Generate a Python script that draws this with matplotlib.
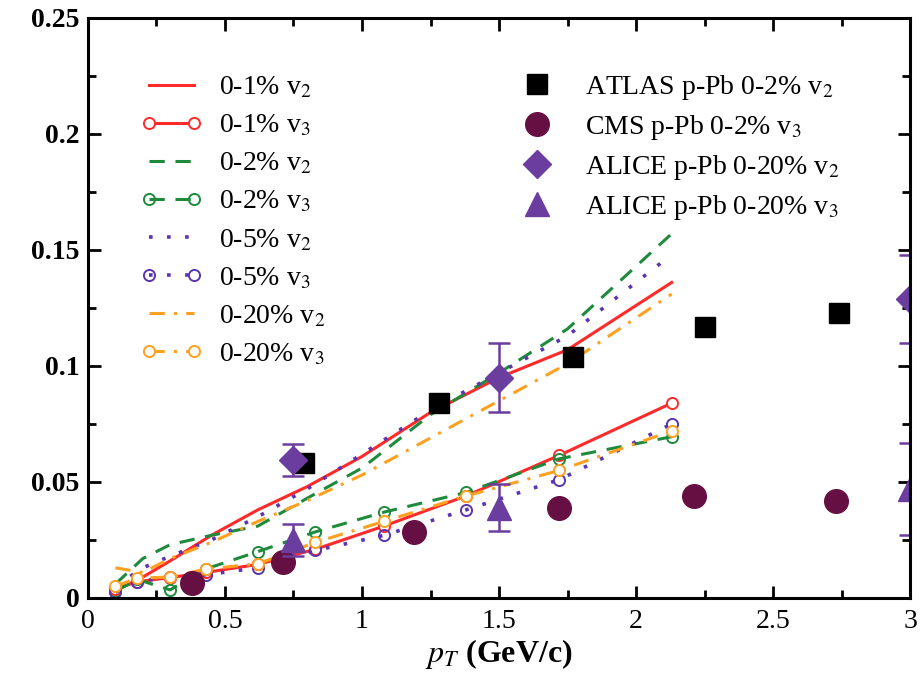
import matplotlib
matplotlib.use("Agg")
import matplotlib.pyplot as plt
from matplotlib.ticker import MultipleLocator, FuncFormatter

plt.rcParams['font.family'] = ['Liberation Serif', 'DejaVu Serif']
plt.rcParams['mathtext.fontset'] = 'stix'

# ---- theory curves: v2 (lines only) ----
x_v2 = [0.1, 0.2, 0.3, 0.45, 0.62, 0.8, 1.0, 1.25, 1.5, 1.75, 2.13]
v2_01 = [0.003, 0.009, 0.016, 0.027, 0.038, 0.048, 0.061, 0.080, 0.095, 0.107, 0.136]
v2_02 = [0.006, 0.017, 0.023, 0.027, 0.031, 0.043, 0.056, 0.079, 0.097, 0.116, 0.157]
v2_05 = [0.005, 0.013, 0.018, 0.025, 0.035, 0.047, 0.062, 0.081, 0.097, 0.113, 0.148]
v2_020 = [0.013, 0.011, 0.017, 0.024, 0.033, 0.042, 0.053, 0.069, 0.085, 0.101, 0.131]

# ---- theory curves: v3 (lines with open circles) ----
x_v3 = [0.1, 0.18, 0.3, 0.43, 0.62, 0.83, 1.08, 1.38, 1.72, 2.13]
v3_01 = [0.004, 0.007, 0.0088, 0.011, 0.0145, 0.021, 0.031, 0.044, 0.0615, 0.084]
v3_02 = [0.003, 0.008, 0.0035, 0.0125, 0.020, 0.0285, 0.037, 0.0455, 0.060, 0.0695]
v3_05 = [0.0025, 0.007, 0.009, 0.010, 0.013, 0.0205, 0.027, 0.038, 0.051, 0.075]
v3_020 = [0.005, 0.0086, 0.009, 0.0125, 0.0147, 0.024, 0.033, 0.044, 0.055, 0.072]

# ---- experimental data ----
atlas_x = [0.79, 1.28, 1.77, 2.25, 2.74]
atlas_v2 = [0.058, 0.084, 0.104, 0.117, 0.123]
cms_x = [0.38, 0.71, 1.19, 1.72, 2.21, 2.73]
cms_v3 = [0.0065, 0.0155, 0.0285, 0.039, 0.044, 0.042]
alice_x = [0.75, 1.5, 3.0]
alice_v2 = [0.0595, 0.095, 0.129]
alice_v2_err = [0.007, 0.015, 0.019]
alice_v3 = [0.025, 0.039, 0.047]
alice_v3_err = [0.007, 0.010, 0.020]

RED = '#ff2a2a'
GREEN = '#1e8a3c'
PURPLE = '#5b35b0'
ORANGE = '#ffa020'
MAROON = '#650f42'
ALICE = '#6a3d9f'

fig = plt.figure(figsize=(9.23, 6.76), dpi=100)
ax = fig.add_axes([0.0953, 0.1154, 0.8907, 0.858])

lw = 2.2
ms_open = 8
ls_dash = (0, (5, 3.5))
ls_dot = (0, (1, 4))
ls_dd = (0, (5, 3, 1, 3))

h = []
h += ax.plot(x_v2, v2_01, color=RED, lw=lw, label='0-1% v$_2$')
h += ax.plot(x_v3, v3_01, color=RED, lw=lw, marker='o', ms=ms_open, mfc='white',
             mec=RED, mew=1.4, label='0-1% v$_3$')
h += ax.plot(x_v2, v2_02, color=GREEN, lw=lw, ls=ls_dash, label='0-2% v$_2$')
h += ax.plot(x_v3, v3_02, color=GREEN, lw=lw, ls=ls_dash, marker='o', ms=ms_open,
             mfc='none', mec=GREEN, mew=1.4, label='0-2% v$_3$')
h += ax.plot(x_v2, v2_05, color=PURPLE, lw=2.6, ls=ls_dot, label='0-5% v$_2$')
h += ax.plot(x_v3, v3_05, color=PURPLE, lw=2.6, ls=ls_dot, marker='o', ms=ms_open,
             mfc='none', mec=PURPLE, mew=1.4, label='0-5% v$_3$')
h += ax.plot(x_v2, v2_020, color=ORANGE, lw=lw, ls=ls_dd, label='0-20% v$_2$')
h += ax.plot(x_v3, v3_020, color=ORANGE, lw=lw, ls=ls_dd, marker='o', ms=ms_open,
             mfc='white', mec=ORANGE, mew=1.4, label='0-20% v$_3$')

e = []
e += ax.plot(atlas_x, atlas_v2, ls='none', marker='s', ms=15, color='black',
             label='ATLAS p-Pb 0-2% v$_2$')
e += ax.plot(cms_x, cms_v3, ls='none', marker='o', ms=17, color=MAROON,
             label='CMS p-Pb 0-2% v$_3$')
ax.errorbar(alice_x, alice_v2, yerr=alice_v2_err, fmt='none', ecolor=ALICE,
            elinewidth=1.8, capsize=8, capthick=1.8)
e += ax.plot(alice_x, alice_v2, ls='none', marker='D', ms=14, color=ALICE,
             label='ALICE p-Pb 0-20% v$_2$')
ax.errorbar(alice_x, alice_v3, yerr=alice_v3_err, fmt='none', ecolor=ALICE,
            elinewidth=1.8, capsize=8, capthick=1.8)
e += ax.plot(alice_x, alice_v3, ls='none', marker='^', ms=17, color=ALICE,
             label='ALICE p-Pb 0-20% v$_3$')

ax.set_xlim(0, 3)
ax.set_ylim(0, 0.25)
ax.xaxis.set_major_locator(MultipleLocator(0.5))
ax.xaxis.set_minor_locator(MultipleLocator(0.25))
ax.yaxis.set_major_locator(MultipleLocator(0.05))
ax.yaxis.set_minor_locator(MultipleLocator(0.025))
fmt = FuncFormatter(lambda v, p: ('%g' % round(v, 3)))
ax.xaxis.set_major_formatter(fmt)
ax.yaxis.set_major_formatter(fmt)
ax.tick_params(which='both', direction='in', top=True, right=True, width=2)
ax.tick_params(which='major', length=9)
ax.tick_params(which='minor', length=6)
ax.tick_params(axis='x', labelsize=20, pad=8)
ax.tick_params(axis='y', labelsize=20, pad=6)
for sp in ax.spines.values():
    sp.set_linewidth(2.2)

ax.set_xlabel('$p_T$ (GeV/c)', fontsize=23, fontweight='bold', labelpad=2)

leg1 = ax.legend(handles=h, loc='upper left', bbox_to_anchor=(0.051, 0.921),
                 frameon=False, fontsize=20, numpoints=2, handlelength=2.2,
                 handletextpad=0.6, labelspacing=0.45, borderaxespad=0)
ax.add_artist(leg1)
leg2 = ax.legend(handles=e, loc='upper left', bbox_to_anchor=(0.499, 0.924),
                 frameon=False, fontsize=20, numpoints=1, handlelength=2.0,
                 handletextpad=0.72, labelspacing=0.39, borderaxespad=0)

fig.canvas.draw()
for lab in ax.get_yticklabels():
    lab.set_fontweight('bold')
fig.savefig('out.png', dpi=100)
